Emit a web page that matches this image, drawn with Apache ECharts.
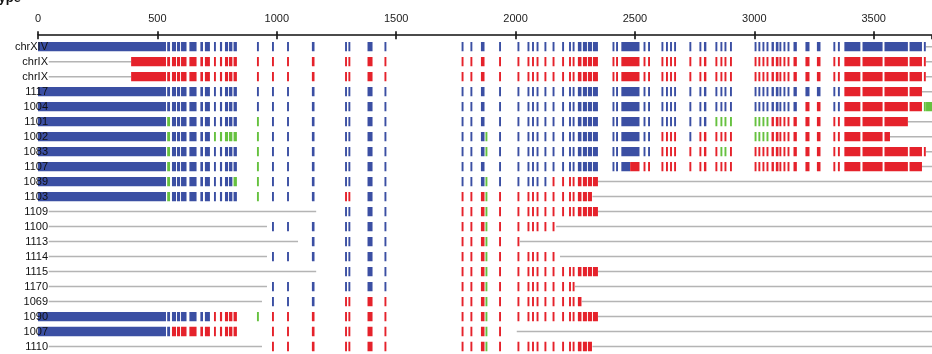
<!DOCTYPE html>
<html>
<head>
<meta charset="utf-8">
<script src="https://cdn.jsdelivr.net/npm/echarts@6/dist/echarts.min.js"></script>
<style>
  html, body { margin: 0; padding: 0; background: #fff; }
  #chart { width: 932px; height: 354px; }
</style>
</head>
<body>
<div id="chart"></div>
<script>
// Strains / chromosomes, one row each, top to bottom
const strains = ['chrXIV', 'chrIX', 'chrIX', '1117', '1004', '1101', '1002', '1083', '1107', '1089',
  '1103', '1109', '1100', '1113', '1114', '1115', '1170', '1069', '1090', '1007', '1110'];

// Position axis (bp)
const axisMin = 0;
const axisMax = 3744;
const tickStep = 500;

// Aligned blocks along the reference, [start, end] in bp
const blocks = [
  [0, 536],
  [541, 553], [561, 578], [582, 595], [599, 622], [634, 664], [680, 691], [699, 720],
  [737, 745], [762, 771], [783, 796], [800, 814], [819, 833],
  [917, 925], [980, 988], [1043, 1051], [1147, 1158], [1286, 1294], [1300, 1308], [1380, 1401], [1451, 1459],
  [1774, 1782], [1811, 1819], [1855, 1870], [1874, 1882], [1931, 1939], [2008, 2016], [2050, 2058],
  [2069, 2077], [2088, 2096], [2121, 2129], [2155, 2163], [2195, 2203], [2224, 2232], [2239, 2247],
  [2261, 2276], [2282, 2299], [2303, 2320], [2324, 2345],
  [2406, 2414], [2421, 2429], [2443, 2519], [2536, 2544], [2555, 2563], [2611, 2619], [2630, 2638],
  [2647, 2655], [2664, 2672], [2728, 2736], [2770, 2778], [2789, 2799], [2837, 2845], [2858, 2866],
  [2875, 2883], [2898, 2906],
  [3001, 3009], [3017, 3025], [3034, 3042], [3051, 3059], [3072, 3082], [3090, 3101], [3105, 3113],
  [3122, 3130], [3139, 3147], [3164, 3178], [3214, 3231], [3262, 3277], [3331, 3339], [3350, 3358],
  [3377, 3444], [3453, 3537], [3545, 3643], [3650, 3702], [3710, 3718], [3719, 3760]
];

// Origin of each stretch per row: [from, to, origin] (0 = blue, 1 = red, 2 = green)
const B = 0, R = 1, G = 2;
const coverage = [
  [[0, 1872, B], [1884, 3719, B]],
  [[390, 1872, R], [1884, 3719, R]],
  [[390, 1872, R], [1884, 3719, R]],
  [[0, 1872, B], [1884, 3365, B], [3365, 3705, R]],
  [[0, 1872, B], [1884, 3190, B], [3190, 3290, R], [3290, 3365, B], [3365, 3705, R], [3705, 3760, G]],
  [[0, 536, B], [536, 558, G], [558, 900, B], [900, 940, G], [940, 1872, B], [1884, 2830, B], [2830, 3062, G], [3062, 3645, R]],
  [[0, 536, B], [536, 558, G], [558, 730, B], [730, 840, G], [840, 900, B], [900, 940, G], [940, 1872, B], [1872, 1884, G],
   [1884, 2600, B], [2600, 2680, R], [2680, 2750, B], [2750, 2990, R], [2990, 3062, G], [3062, 3568, R]],
  [[0, 536, B], [536, 558, G], [558, 900, B], [900, 940, G], [940, 1872, B], [1872, 1884, G], [1884, 2600, B],
   [2600, 2850, R], [2850, 2890, G], [2890, 3719, R]],
  [[0, 536, B], [536, 558, G], [558, 900, B], [900, 940, G], [940, 1872, B], [1884, 2480, B], [2480, 3705, R]],
  [[0, 536, B], [536, 558, G], [558, 815, B], [815, 840, G], [840, 900, B], [900, 940, G], [940, 1872, B], [1872, 1884, G],
   [1884, 2150, B], [2150, 2345, R]],
  [[0, 536, B], [536, 558, G], [558, 900, B], [900, 940, G], [940, 1250, B], [1250, 1320, R], [1320, 1470, B],
   [1740, 1872, R], [1872, 1884, G], [1884, 2322, R]],
  [[1280, 1470, B], [1740, 1872, R], [1872, 1884, G], [1884, 2345, R]],
  [[960, 1470, B], [1740, 1872, R], [1872, 1884, G], [1884, 2170, R]],
  [[1140, 1470, B], [1740, 1872, R], [1872, 1884, G], [1884, 2020, R]],
  [[960, 1470, B], [1740, 1872, R], [1872, 1884, G], [1884, 2166, R]],
  [[1280, 1470, B], [1740, 1872, R], [1872, 1884, G], [1884, 2345, R]],
  [[960, 1470, B], [1740, 1872, R], [1872, 1884, G], [1884, 2248, R]],
  [[960, 1160, B], [1280, 1470, R], [1740, 1872, R], [1872, 1884, G], [1884, 2277, R]],
  [[0, 725, B], [725, 840, R], [900, 940, G], [940, 1470, R], [1740, 1872, R], [1872, 1884, G], [1884, 2345, R]],
  [[0, 558, B], [558, 840, R], [960, 1470, R], [1740, 1872, R], [1872, 1884, G], [1884, 1945, R]],
  [[960, 1470, R], [1740, 1872, R], [1872, 1884, G], [1884, 2322, R]]
];

// Unaligned flanks drawn as thin grey lines, [from, to] in bp
const flanks = [
  [[3718, 3760]],
  [[45, 390], [3718, 3760]],
  [[45, 390], [3718, 3760]],
  [[3702, 3760]],
  [],
  [[3643, 3760]],
  [[3568, 3760]],
  [[3718, 3760]],
  [[3702, 3760]],
  [[2345, 3760]],
  [[2322, 3760]],
  [[45, 1165], [2345, 3760]],
  [[45, 959], [2170, 3760]],
  [[45, 1089], [2018, 3760]],
  [[45, 959], [2186, 3760]],
  [[45, 1165], [2345, 3760]],
  [[45, 959], [2248, 3760]],
  [[45, 938], [2277, 3760]],
  [[2345, 3760]],
  [[2005, 3760]],
  [[45, 938], [2322, 3760]]
];

const originColors = ['#3b4fa3', '#e5222b', '#66c13f'];

// Clip every block against each row's coverage stretches
const segments = [];
coverage.forEach((runs, row) => {
  runs.forEach(([a, b, k]) => {
    blocks.forEach(([s, e]) => {
      const lo = Math.max(a, s), hi = Math.min(b, e);
      if (hi > lo) segments.push([lo, hi, row, k]);
    });
  });
});
const flankData = [];
flanks.forEach((list, row) => list.forEach(([a, b]) => flankData.push([a, b, row])));

function rectItem(api, frac, fill) {
  const p0 = api.coord([api.value(0), api.value(2)]);
  const p1 = api.coord([api.value(1), api.value(2)]);
  const band = api.size([0, 1])[1];
  const h = typeof frac === 'number' ? band * frac : frac.px;
  return {
    type: 'rect',
    shape: { x: p0[0], y: p0[1] - h / 2, width: Math.max(p1[0] - p0[0], 1), height: h },
    style: { fill: fill }
  };
}

const chart = echarts.init(document.getElementById('chart'), null, { renderer: 'canvas' });
const axisCommon = {
  type: 'value', position: 'top', min: axisMin, max: axisMax, interval: tickStep, offset: 4,
  splitLine: { show: false }
};
chart.setOption({
  animation: false,
  backgroundColor: '#fff',
  grid: { left: 38, right: 0, top: 39.2, height: 315, containLabel: false },
  graphic: [{
    type: 'text', x: 21, y: 5,
    style: { text: 'Genotype', textAlign: 'right', textVerticalAlign: 'bottom',
      font: 'bold 13px "Liberation Sans", Arial, sans-serif', fill: '#111' }
  }],
  xAxis: [
    Object.assign({}, axisCommon, {
      axisLine: { show: true, lineStyle: { color: '#111', width: 1.6 } },
      axisTick: { show: true, length: 4, lineStyle: { color: '#111', width: 1.6 } },
      axisLabel: {
        show: true, margin: 11, fontSize: 11, color: '#222',
        fontFamily: '"Liberation Sans", Arial, sans-serif',
        showMaxLabel: false, formatter: v => String(v)
      }
    }),
    Object.assign({}, axisCommon, {
      axisLine: { show: false },
      axisTick: { show: true, inside: true, length: 4, lineStyle: { color: '#111', width: 1.6 } },
      axisLabel: { show: false }
    })
  ],
  yAxis: {
    type: 'category', data: strains, inverse: true, z: 10,
    axisLine: { show: false }, axisTick: { show: false }, splitLine: { show: false },
    axisLabel: {
      margin: -10, fontSize: 11, color: '#111',
      fontFamily: '"Liberation Sans", Arial, sans-serif'
    }
  },
  series: [
    {
      type: 'custom', name: 'flanks', xAxisIndex: 0, clip: true, z: 1,
      data: flankData,
      renderItem: (params, api) => rectItem(api, { px: 1.5 }, '#b4b4b4')
    },
    {
      type: 'custom', name: 'blocks', xAxisIndex: 0, clip: true, z: 2,
      data: segments,
      renderItem: (params, api) => rectItem(api, 0.62, originColors[api.value(3)])
    }
  ]
});
</script>
</body>
</html>
